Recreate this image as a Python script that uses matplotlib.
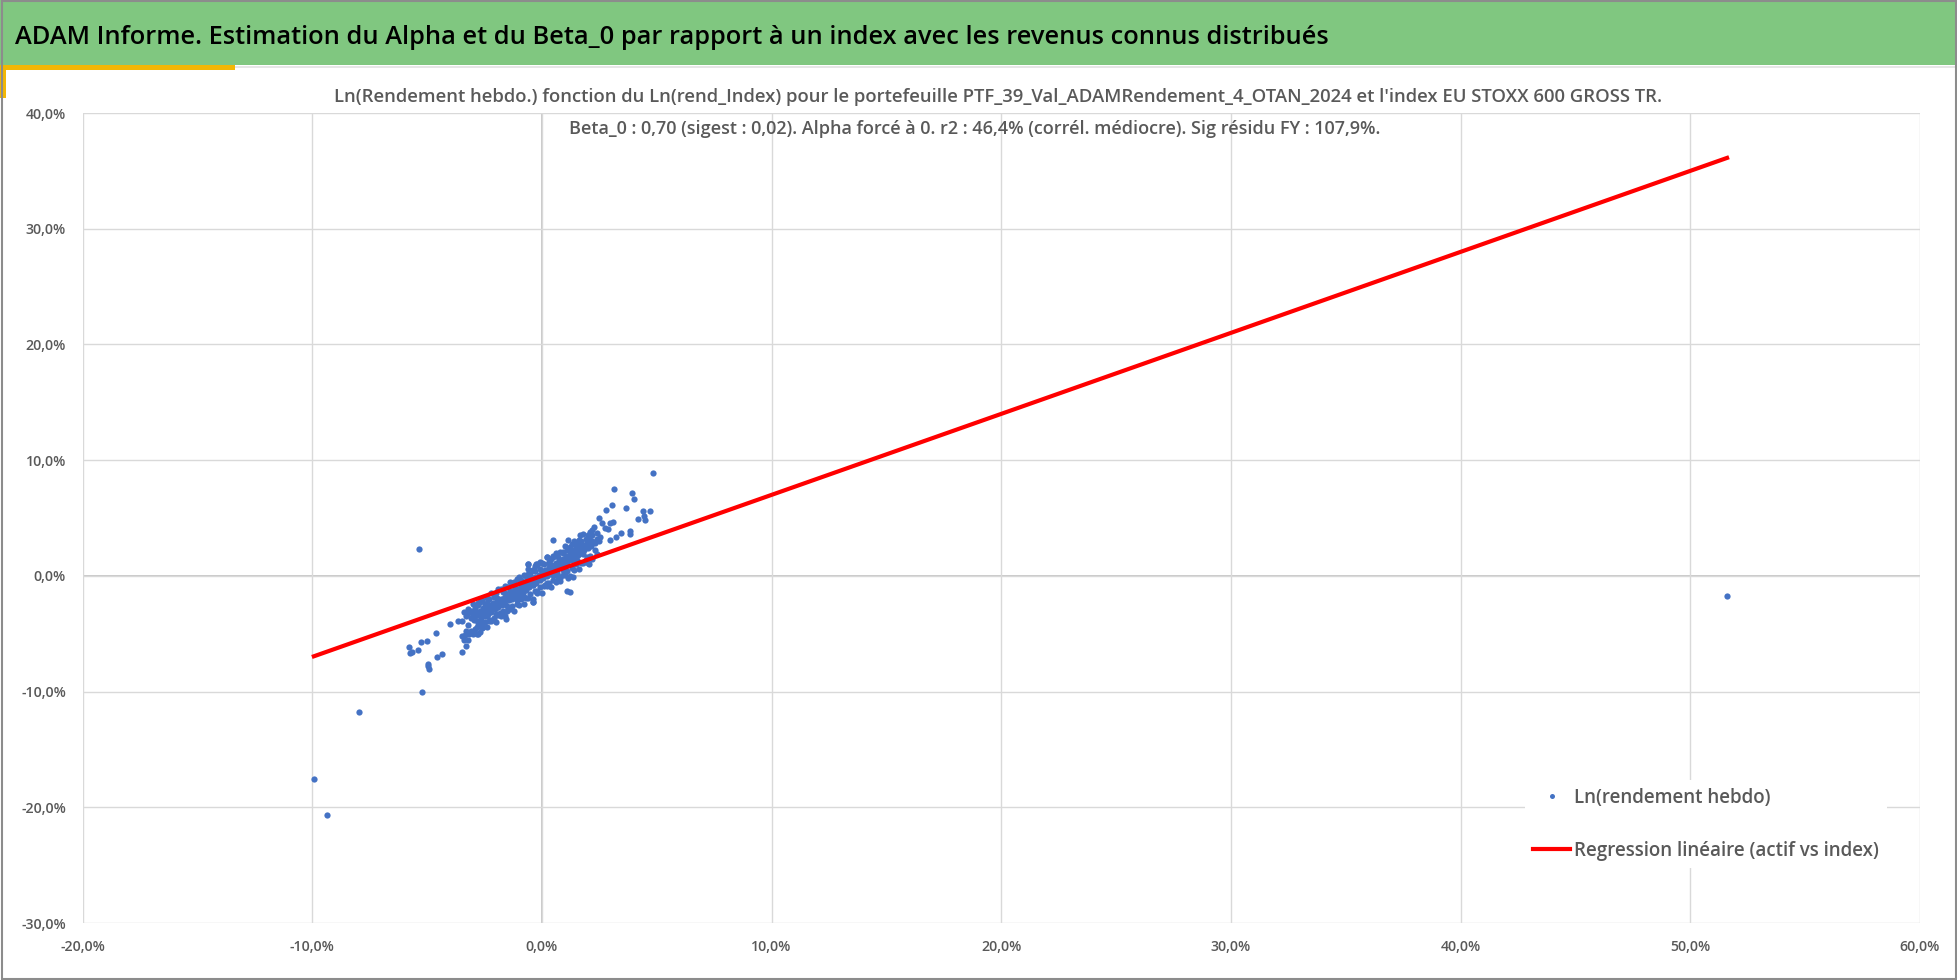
import matplotlib
matplotlib.use("Agg")
import matplotlib.pyplot as plt
from matplotlib import font_manager
from matplotlib.patches import Rectangle
from matplotlib.ticker import FuncFormatter, MultipleLocator

# ── Font: narrow sans if available (chart made with Calibri) ─────────────────
_names = {f.name for f in font_manager.fontManager.ttflist}
FONT = next((n for n in ["Liberation Sans Narrow", "Open Sans", "Liberation Sans"] if n in _names), "DejaVu Sans")
plt.rcParams["font.family"] = [FONT, "DejaVu Sans"]
plt.rcParams["font.weight"] = "semibold"

# ── Data (percent) ────────────────────────────────────────────────────────────
BETA_0 = 0.70

outlier_x = [51.6, -9.93, -9.37, -7.97, -5.34, -5.24, 4.85]
outlier_y = [-1.7, -17.57, -20.66, -11.73, 2.31, -10.0, 8.87]

lower_x = [-5.79, -5.75, -5.65, -5.38, -5.28, -5.0, -4.63, -4.94, -4.92, -4.98, -4.59, -4.37,
           -4.0, -3.64, -3.5, -3.25, -3.5, -3.35, -3.18, -2.84, -2.70, -3.31, -3.5, -3.21,
           -2.98, -2.77, -3.06, -2.77, -2.41, -2.26, -2.12, -1.97, -1.57, -1.61, -1.68, -1.39,
           -1.18, -0.95, -0.81, -0.6, -0.38, -0.38, -0.23, -0.6, -0.28, -0.02, 0.2, 0.64,
           1.07, 0.71, 0.35, -1.97, -1.83, -2.26, -2.55, -2.84, -2.41]
lower_y = [-6.16, -6.68, -6.6, -6.45, -5.7, -5.6, -4.95, -7.63, -8.04, -7.78, -6.97, -6.74,
           -4.18, -3.89, -3.89, -3.31, -5.24, -5.1, -5.0, -5.0, -4.83, -6.05, -6.6, -4.24,
           -3.66, -2.36, -3.23, -4.09, -3.5, -2.94, -2.36, -1.93, -3.74, -1.5, -2.07, -1.35,
           -1.07, -1.79, -0.49, -0.06, -0.78, -2.22, -1.35, 1.04, 1.04, -0.06, 0.52, 0.23,
           -1.35, -0.35, 0.81, -2.65, -3.23, -3.8, -4.38, -4.38, -2.36]

upper_x = [3.13, 3.9, 4.0, 3.03, 3.66, 2.79, 4.41, 4.7, 4.44, 4.48, 4.19, 2.48, 2.6, 2.96,
           3.1, 2.74, 2.86, 2.26, 3.44, 3.83, 3.83, 3.22, 2.96, 2.52, 2.16, 2.09, 1.65, 1.58,
           1.15, 0.49, 1.29, 0.93, 1.94, 2.06, 0.49, 0.2, 0.78, 1.51, -0.09, -0.6, -0.23,
           -0.38, 0.35, 0.93, 1.36, 1.15, 0.78, 0.49, 1.22, 0.13, -0.23, -0.38, -0.81, -0.67]
upper_y = [7.52, 7.15, 6.65, 6.14, 5.9, 5.7, 5.62, 5.62, 5.18, 4.84, 4.92, 4.98, 4.55, 4.55,
           4.69, 4.12, 4.03, 4.2, 3.69, 3.89, 3.63, 3.4, 3.11, 3.4, 3.54, 2.82, 3.54, 2.82,
           3.11, 3.11, 2.25, 2.1, 1.67, 1.04, 1.67, 1.67, 1.38, 1.38, 1.24, 1.0, 0.95,
           0.52, 0.81, 0.52, -0.06, -0.2, -0.2, 0.09, -1.36, -0.78, -1.36, -2.27, -1.5, -0.35]

core_x = [-3.1, -3.0, -2.95, -2.9, -2.85, -2.8, -2.75, -2.7, -2.65, -2.6, -2.55, -2.5, -2.45,
          -2.4, -2.35, -2.3, -2.25, -2.2, -2.15, -2.1, -2.05, -2.0, -1.95, -1.9, -1.85, -1.8,
          -1.75, -1.7, -1.65, -1.6, -1.55, -1.5, -1.45, -1.4, -1.35, -1.3, -1.25, -1.2, -1.15,
          -1.1, -1.05, -1.0, -0.95, -0.9, -0.85, -0.8, -0.75, -0.7, -0.65, -0.6, -0.55, -0.5,
          -0.45, -0.4, -0.35, -0.3, -0.25, -0.2, -0.15, -0.1, -0.05, 0.0, 0.05, 0.1, 0.15, 0.2,
          0.25, 0.3, 0.35, 0.4, 0.45, 0.5, 0.55, 0.6, 0.65, 0.7, 0.75, 0.8, 0.85, 0.9, 0.95,
          1.0, 1.05, 1.1, 1.15, 1.2, 1.25, 1.3, 1.35, 1.4, 1.45, 1.5, 1.55, 1.6, 1.65, 1.7,
          1.75, 1.8, 1.85, 1.9, 1.95, 2.0, 2.05, 2.1, 2.15, 2.2, 2.3, 2.4, 2.5,
          -0.3, 0.2, 0.6, -0.8, 1.0, -1.5, 1.5, -2.0, 0.3, -0.6, -1.1, 1.8, -2.6, 2.3]
core_y = [-3.6, -3.3, -3.8, -3.5, -3.1, -3.9, -3.4, -3.0, -3.6, -3.2, -2.8, -3.5, -3.0,
          -2.7, -3.3, -2.9, -2.5, -3.1, -2.7, -2.4, -2.9, -2.5, -2.2, -2.7, -2.3, -2.0,
          -2.5, -2.2, -1.9, -2.4, -2.0, -1.7, -2.1, -1.8, -1.5, -2.0, -1.6, -1.3, -1.8,
          -1.4, -1.1, -1.6, -1.2, -0.9, -1.4, -1.0, -0.7, -1.2, -0.8, -0.5, -1.0, -0.6,
          -0.3, -0.8, -0.4, -0.1, -0.6, -0.2, 0.1, -0.4, 0.0, 0.3, -0.2, 0.2, 0.5, 0.0,
          0.4, 0.7, 0.2, 0.6, 0.9, 0.4, 0.8, 1.1, 0.6, 1.0, 1.3, 0.8, 1.2, 1.5, 1.0,
          1.4, 1.7, 1.2, 1.6, 1.9, 1.4, 1.8, 2.1, 1.6, 2.0, 2.3, 1.8, 2.2, 2.5, 2.0,
          2.4, 2.7, 2.2, 2.6, 2.9, 2.4, 2.8, 3.1, 2.6, 3.0, 2.8, 3.2, 3.0,
          0.4, -0.6, 0.1, -1.8, 0.6, -2.6, 1.2, -3.3, 1.1, 0.2, -2.1, 1.9, -4.0, 2.2]

# edges of the dense band (upper and lower rims)
rim_x = [-3.4, -3.3, -3.2, -3.1, -3.0, -2.9, -2.8, -2.7, -2.6, -2.5, -2.4, -2.3, -2.2, -2.1,
         -2.0, -1.9, -1.8, -1.7, -1.6, -1.5, -1.4, -1.3, -1.2, -1.1, -1.0, -0.9, -0.8, -0.7,
         -0.6, -0.5, -0.4, -0.3, -0.2, -0.1, 0.0, 0.1, 0.2, 0.3, 0.4, 0.5, 0.6, 0.7, 0.8, 0.9,
         1.0, 1.1, 1.2, 1.3, 1.4, 1.5, 1.6, 1.7, 1.8, 1.9, 2.0, 2.1, 2.2, 2.4]
rim_up = [-3.1, -3.5, -2.9, -3.0, -2.4, -2.8, -2.5, -2.25, -2.1, -2.4, -1.9, -2.0, -1.5, -1.8,
          -1.5, -1.15, -1.1, -1.4, -0.9, -1.0, -0.5, -0.8, -0.5, -0.25, -0.1, -0.4, 0.1, 0.0,
          0.6, 0.2, 0.5, 0.85, 1.0, 0.6, 1.1, 1.0, 1.6, 1.2, 1.5, 1.75, 2.0, 1.6, 2.1, 2.0,
          2.6, 2.2, 2.5, 2.75, 3.0, 2.6, 3.1, 3.0, 3.6, 3.2, 3.5, 3.75, 4.0, 3.7]
rim_lo = [-5.5, -4.8, -5.55, -4.8, -5.0, -4.6, -5.0, -4.35, -4.5, -4.0, -4.45, -3.9, -3.9, -3.6,
          -4.0, -3.35, -3.5, -3.0, -3.45, -3.0, -2.9, -2.6, -3.0, -2.45, -2.5, -2.0, -2.45, -1.9,
          -1.9, -1.6, -2.0, -1.35, -1.5, -1.0, -1.45, -0.9, -0.9, -0.6, -1.0, -0.35, -0.5, 0.0,
          -0.45, 0.1, 0.1, 0.4, 0.0, 0.65, 0.5, 1.0, 0.55, 1.1, 1.1, 1.4, 1.1, 1.75, 1.5, 1.9]

pts_x = outlier_x + lower_x + upper_x + core_x + rim_x + rim_x
pts_y = outlier_y + lower_y + upper_y + core_y + rim_up + rim_lo

TITLE = "ADAM Informe. Estimation du Alpha et du Beta_0 par rapport à un index avec les revenus connus distribués"
SUB1 = ("Ln(Rendement hebdo.) fonction du Ln(rend_Index) pour le portefeuille "
        "PTF_39_Val_ADAMRendement_4_OTAN_2024 et l'index EU STOXX 600 GROSS TR.")
SUB2 = "Beta_0 : 0,70 (sigest : 0,02). Alpha forcé à 0. r2 : 46,4% (corrél. médiocre). Sig résidu FY : 107,9%."

# ── Style ─────────────────────────────────────────────────────────────────────
W, H = 1958, 980
GREEN = "#80c780"
GOLD = "#f2b705"
BLUE = "#4472c4"
RED = "#ff0000"
GRID = "#d9d9d9"
TXT = "#595959"

fig = plt.figure(figsize=(W / 100, H / 100), dpi=100)
fig.patch.set_facecolor("white")

# header band + accents
fig.add_artist(Rectangle((0, 1 - 65 / H), 1, 65 / H, transform=fig.transFigure,
                         facecolor=GREEN, edgecolor="none", zorder=0))
fig.add_artist(Rectangle((235 / W, 1 - 68 / H), 1 - 235 / W, 2 / H, transform=fig.transFigure,
                         facecolor="#e6e6e6", edgecolor="none", zorder=1))
fig.add_artist(Rectangle((0, 1 - 70 / H), 235 / W, 5 / H, transform=fig.transFigure,
                         facecolor=GOLD, edgecolor="none", zorder=1))
fig.add_artist(Rectangle((0, 1 - 98 / H), 6 / W, 33 / H, transform=fig.transFigure,
                         facecolor=GOLD, edgecolor="none", zorder=1))
fig.add_artist(Rectangle((0.001, 0.001), 0.998, 0.998, transform=fig.transFigure,
                         facecolor="none", edgecolor="#8c8c8c", linewidth=1.5, zorder=5))
fig.text(15 / W, 1 - 37 / H, TITLE, fontsize=18.3, color="black", va="center", ha="left")

fig.text(998 / W, 1 - 97 / H, SUB1, fontsize=13.3, color=TXT, va="center", ha="center")
fig.text(975 / W, 1 - 129 / H, SUB2, fontsize=13.0, color=TXT, va="center", ha="center")

# ── Plot ──────────────────────────────────────────────────────────────────────
ax = fig.add_axes([82.6 / W, 57 / H, (1920 - 82.6) / W, (923 - 113) / H])
ax.set_xlim(-20, 60)
ax.set_ylim(-30, 40)
ax.xaxis.set_major_locator(MultipleLocator(10))
ax.yaxis.set_major_locator(MultipleLocator(10))
ax.grid(True, color=GRID, linewidth=1.0, zorder=0)
ax.axhline(0, color="#bfbfbf", linewidth=1.2, zorder=1)
ax.axvline(0, color="#bfbfbf", linewidth=1.2, zorder=1)
for s in ax.spines.values():
    s.set_visible(False)
pct = FuncFormatter(lambda v, _: f"{v:.1f}%".replace(".", ","))
ax.xaxis.set_major_formatter(pct)
ax.yaxis.set_major_formatter(pct)
ax.tick_params(length=0, labelsize=10.2, labelcolor=TXT, pad=12)

ax.plot(pts_x, pts_y, linestyle="none", marker="o", markersize=4.5, color=BLUE,
        markeredgewidth=0, zorder=3, label="Ln(rendement hebdo)")
x_line = [min(pts_x), max(pts_x)]
ax.plot(x_line, [BETA_0 * v for v in x_line], color=RED, linewidth=3.0, zorder=4,
        label="Regression linéaire (actif vs index)")

leg = ax.legend(loc="center", bbox_to_anchor=(0.779, 0.053, 0.209, 0.138), frameon=True,
                facecolor="white", edgecolor="none", framealpha=1, fontsize=13.5,
                labelcolor=TXT, labelspacing=1.75, handlelength=2.0, handletextpad=0.2,
                borderaxespad=0, markerscale=0.8)
leg.get_frame().set_boxstyle("square", pad=0)
leg.set_zorder(6)

fig.savefig("out.png", dpi=100)
